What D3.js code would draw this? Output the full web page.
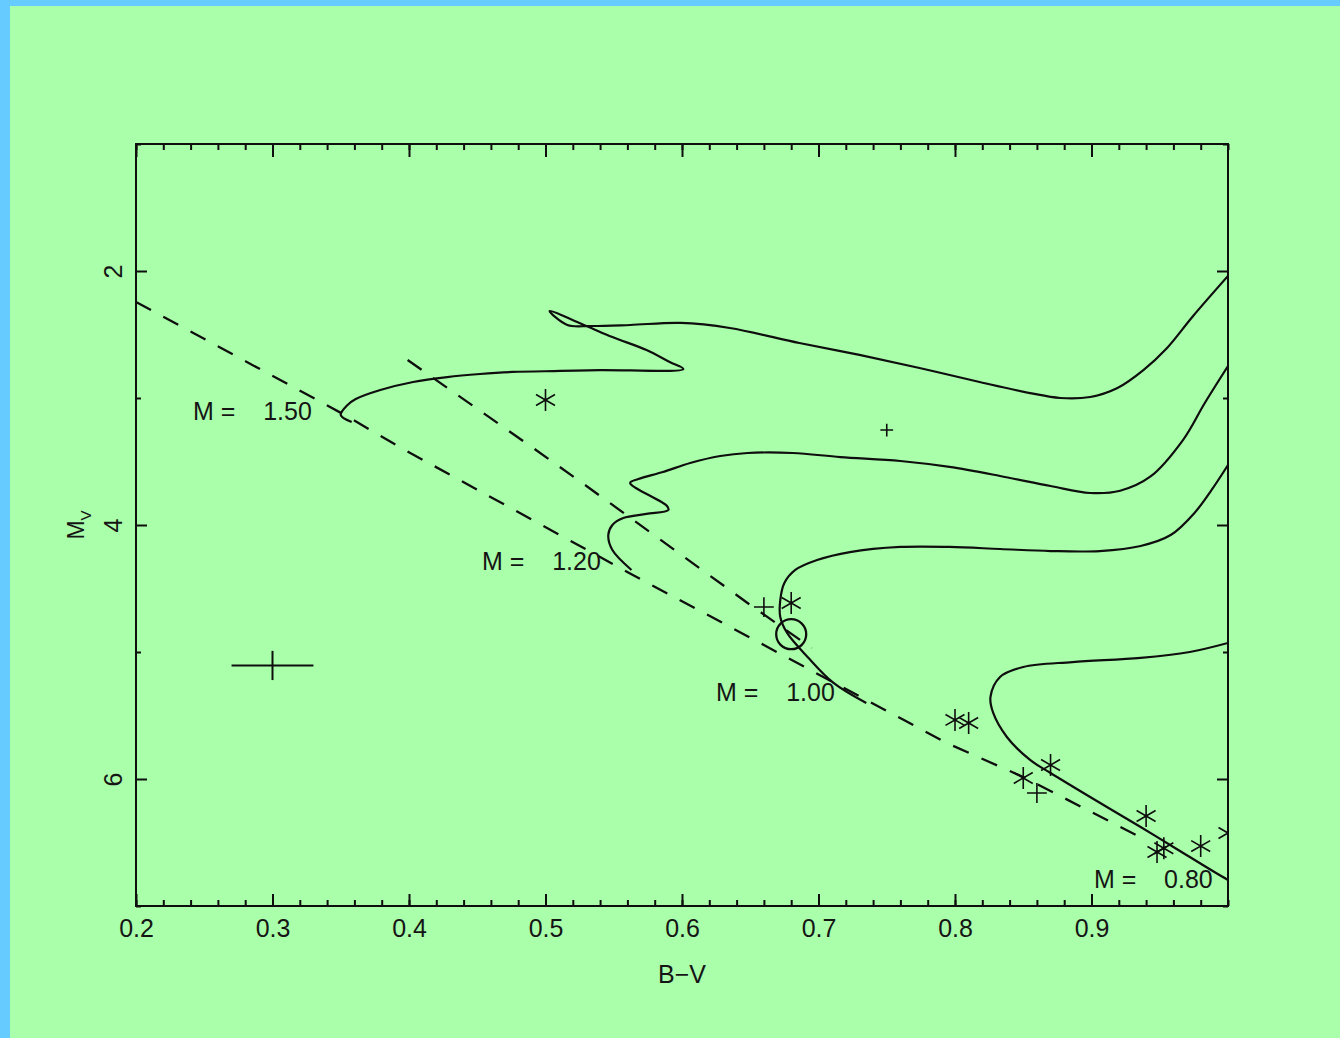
<!DOCTYPE html>
<html>
<head>
<meta charset="utf-8">
<script src="https://cdn.jsdelivr.net/npm/d3@7"></script>
<style>
  body { margin: 0; background: #66ccff; }
  svg { display: block; }
  text { font-family: "Liberation Sans", Arial, sans-serif; fill: #151515; }
</style>
</head>
<body>
<svg id="chart"></svg>
<script>
// evolutionary tracks, [B-V, Mv]
const trackMasses = ["1.50", "1.20", "1.00", "0.80"];

const track150 = [
  [0.358, 3.189], [0.350, 3.134], [0.355, 3.055], [0.361, 3.008], [0.379, 2.937],
  [0.403, 2.874], [0.428, 2.835], [0.452, 2.811], [0.476, 2.795], [0.511, 2.787],
  [0.540, 2.780], [0.601, 2.772], [0.591, 2.717], [0.574, 2.622], [0.549, 2.520],
  [0.530, 2.433], [0.503, 2.315], [0.516, 2.425], [0.533, 2.433], [0.562, 2.425],
  [0.599, 2.409], [0.635, 2.449], [0.686, 2.567], [0.730, 2.661], [0.774, 2.764],
  [0.818, 2.874], [0.855, 2.961], [0.877, 3.000], [0.899, 2.992], [0.919, 2.921],
  [0.938, 2.780], [0.955, 2.610], [0.974, 2.360], [1.000, 2.039]
];

const track120 = [
  [0.563, 4.354], [0.549, 4.197], [0.546, 4.079], [0.549, 4.000], [0.557, 3.945],
  [0.574, 3.913], [0.590, 3.882], [0.589, 3.850], [0.562, 3.669], [0.568, 3.638],
  [0.586, 3.583], [0.606, 3.512], [0.628, 3.457], [0.648, 3.433], [0.681, 3.433],
  [0.716, 3.465], [0.760, 3.496], [0.796, 3.543], [0.833, 3.614], [0.870, 3.693],
  [0.899, 3.748], [0.921, 3.730], [0.943, 3.620], [0.967, 3.331], [0.983, 3.039],
  [1.000, 2.748]
];

const track100 = [
  [0.735, 5.402], [0.711, 5.244], [0.692, 5.039], [0.677, 4.850], [0.672, 4.724],
  [0.672, 4.591], [0.675, 4.457], [0.683, 4.354], [0.699, 4.276], [0.723, 4.213],
  [0.760, 4.173], [0.796, 4.173], [0.833, 4.189], [0.870, 4.205], [0.906, 4.205],
  [0.936, 4.165], [0.958, 4.079], [0.976, 3.898], [0.988, 3.724], [1.000, 3.528]
];

const track080 = [
  [1.012, 6.858], [1.000, 6.795], [0.960, 6.535], [0.936, 6.378], [0.899, 6.142],
  [0.870, 5.953], [0.855, 5.850], [0.838, 5.669], [0.828, 5.480], [0.826, 5.354],
  [0.833, 5.197], [0.850, 5.118], [0.886, 5.079], [0.936, 5.047], [0.972, 5.000],
  [1.000, 4.929]
];

// label anchors (text start) for each mass
const labelBV = [0.2418, 0.4535, 0.6249, 0.9018];
const labelMV = [3.173, 4.354, 5.386, 6.858];

// dashed lines
const zams = [
  [0.200, 2.244], [0.353, 3.134], [0.393, 3.386], [0.564, 4.394], [0.630, 4.772],
  [0.694, 5.142], [0.794, 5.717], [0.850, 5.984], [0.9355, 6.457]
];
const upperLine = [
  [0.399, 2.701], [0.491, 3.394], [0.529, 3.685], [0.648, 4.614], [0.695, 4.969]
];

// stars
const starBV = [0.50, 0.68, 0.80, 0.81, 0.85, 0.87, 0.94, 0.948, 0.953, 0.98, 1.0];
const starMV = [3.016, 4.614, 5.535, 5.559, 5.992, 5.890, 6.291, 6.575, 6.545, 6.528, 6.425];
const plusBV = [0.66, 0.86];
const plusMV = [4.646, 6.11];
const smallPlusBV = [0.75];
const smallPlusMV = [3.252];

// sun and typical error bar
const sunBV = 0.68, sunMV = 4.86;
const errBV = 0.30, errMV = 5.106, errDX = 0.03, errDY = 0.115;

const xTicks = [0.2, 0.3, 0.4, 0.5, 0.6, 0.7, 0.8, 0.9];
const xTickLabels = ["0.2", "0.3", "0.4", "0.5", "0.6", "0.7", "0.8", "0.9"];
const yTicks = [2, 4, 6];
const yTickLabels = ["2", "4", "6"];

const W = 1340, H = 1038;
const plot = { left: 136, right: 1228, top: 144, bottom: 906 };
const ink = "#0e0e0e";

const svg = d3.select("#chart").attr("width", W).attr("height", H);

svg.append("rect").attr("x", 10).attr("y", 6).attr("width", W - 10).attr("height", H - 6)
  .attr("fill", "#aaffaa");

const x = d3.scaleLinear().domain([0.2, 1.0]).range([plot.left, plot.right]);
const y = d3.scaleLinear().domain([1, 7]).range([plot.top, plot.bottom]);

svg.append("clipPath").attr("id", "plotclip")
  .append("rect")
  .attr("x", plot.left).attr("y", plot.top)
  .attr("width", plot.right - plot.left).attr("height", plot.bottom - plot.top);

// axes, ticks pointing inward on all four sides
const xMinor = d3.range(10, 51).map(i => i * 0.02);
const yMinor = [1, 3, 5, 7];

const addAxis = (axis, tx, ty) => {
  const g = svg.append("g").attr("transform", `translate(${tx},${ty})`).call(axis);
  g.select(".domain").remove();
  g.selectAll("line").attr("stroke", ink).attr("stroke-width", 2);
  return g;
};

addAxis(d3.axisBottom(x).tickValues(xMinor).tickSize(-6).tickFormat(""), 0, plot.bottom);
addAxis(d3.axisTop(x).tickValues(xMinor).tickSize(-6).tickFormat(""), 0, plot.top);
addAxis(d3.axisTop(x).tickValues(xTicks).tickSize(-13).tickFormat(""), 0, plot.top);
const xAxis = addAxis(
  d3.axisBottom(x).tickValues(xTicks).tickSize(-12).tickFormat((d, i) => xTickLabels[i]),
  0, plot.bottom);
xAxis.selectAll("text")
  .attr("y", 31).attr("dy", 0)
  .attr("font-size", 25).attr("fill", "#151515")
  .attr("font-family", "Liberation Sans, Arial, sans-serif");

addAxis(d3.axisLeft(y).tickValues(yMinor).tickSize(-5).tickFormat(""), plot.left, 0);
addAxis(d3.axisRight(y).tickValues(yMinor).tickSize(-5).tickFormat(""), plot.right, 0);
addAxis(d3.axisRight(y).tickValues(yTicks).tickSize(-11).tickFormat(""), plot.right, 0);
const yAxis = addAxis(
  d3.axisLeft(y).tickValues(yTicks).tickSize(-11).tickFormat((d, i) => yTickLabels[i]),
  plot.left, 0);
yAxis.selectAll("text")
  .attr("x", 0).attr("dy", 0)
  .attr("text-anchor", "middle")
  .attr("transform", "translate(-14,0) rotate(-90)")
  .attr("font-size", 25).attr("fill", "#151515")
  .attr("font-family", "Liberation Sans, Arial, sans-serif");

svg.append("rect")
  .attr("x", plot.left).attr("y", plot.top)
  .attr("width", plot.right - plot.left).attr("height", plot.bottom - plot.top)
  .attr("fill", "none").attr("stroke", ink).attr("stroke-width", 2);

// axis titles
svg.append("text")
  .attr("x", (plot.left + plot.right) / 2).attr("y", 983)
  .attr("text-anchor", "middle").attr("font-size", 25)
  .text("B\u2212V");

const yTitle = svg.append("text")
  .attr("transform", `translate(84,${(plot.top + plot.bottom) / 2}) rotate(-90)`)
  .attr("text-anchor", "middle").attr("font-size", 23);
yTitle.append("tspan").text("M");
yTitle.append("tspan").attr("dy", 7).attr("font-size", 15).text("V");

// plot contents
const body = svg.append("g").attr("clip-path", "url(#plotclip)");
const line = d3.line().x(d => x(d[0])).y(d => y(d[1])).curve(d3.curveCatmullRom.alpha(0.5));

[zams, upperLine].forEach(pts => {
  body.append("path").attr("d", d3.line().x(d => x(d[0])).y(d => y(d[1]))(pts))
    .attr("fill", "none").attr("stroke", ink).attr("stroke-width", 2.3)
    .attr("stroke-dasharray", "17,14");
});

[track150, track120, track100, track080].forEach(pts => {
  body.append("path").attr("d", line(pts))
    .attr("fill", "none").attr("stroke", ink).attr("stroke-width", 2.2)
    .attr("stroke-linejoin", "round");
});

const symbolAt = (type, size, bvs, mvs) => {
  body.selectAll(null).data(bvs).enter().append("path")
    .attr("transform", (d, i) => `translate(${x(d)},${y(mvs[i])})`)
    .attr("d", d3.symbol(type, size))
    .attr("fill", "none").attr("stroke", ink).attr("stroke-width", 1.6);
};

symbolAt(d3.symbolAsterisk, 340, starBV, starMV);
symbolAt(d3.symbolPlus, 130, plusBV, plusMV);
symbolAt(d3.symbolPlus, 55, smallPlusBV, smallPlusMV);

body.append("circle")
  .attr("cx", x(sunBV)).attr("cy", y(sunMV)).attr("r", 15)
  .attr("fill", "none").attr("stroke", ink).attr("stroke-width", 2.3);

body.append("line")
  .attr("x1", x(errBV - errDX)).attr("x2", x(errBV + errDX))
  .attr("y1", y(errMV)).attr("y2", y(errMV))
  .attr("stroke", ink).attr("stroke-width", 2);
body.append("line")
  .attr("x1", x(errBV)).attr("x2", x(errBV))
  .attr("y1", y(errMV - errDY)).attr("y2", y(errMV + errDY))
  .attr("stroke", ink).attr("stroke-width", 2);

// mass labels
svg.selectAll(".mass-label").data(trackMasses).enter().append("text")
  .attr("class", "mass-label")
  .attr("x", (d, i) => x(labelBV[i]))
  .attr("y", (d, i) => y(labelMV[i]))
  .attr("font-size", 25)
  .text(d => "M =\u00A0\u00A0\u00A0\u00A0" + d);
</script>
</body>
</html>
